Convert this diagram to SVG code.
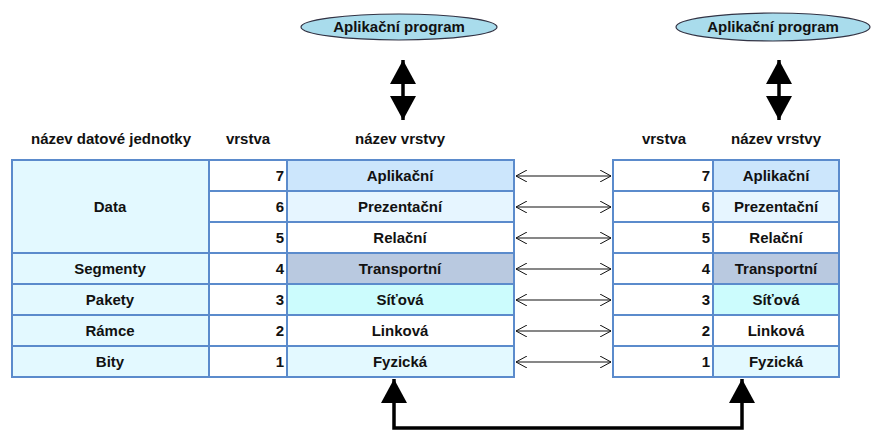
<svg xmlns="http://www.w3.org/2000/svg" width="873" height="430" viewBox="0 0 873 430">
  <style>
    text { font-family: "Liberation Sans", Arial, sans-serif; font-weight: bold; font-size: 15px; fill: #111; }
    .c { text-anchor: middle; }
    .r { text-anchor: end; }
    .cell { stroke: #5b8bcc; stroke-width: 2; }
    .unit { fill: #e3f9ff; }
    .num { fill: #ffffff; }
    .l7 { fill: #cce6fc; }
    .l6 { fill: #e6f5ff; }
    .l5 { fill: #ffffff; }
    .l4 { fill: #b9c9e0; }
    .l3 { fill: #ccfcfd; }
    .l2 { fill: #ffffff; }
    .l1 { fill: #e3f9ff; }
    .peer { stroke: #111; stroke-width: 1.2; fill: none; marker-start: url(#open); marker-end: url(#open); }
    .thick { stroke: #000; stroke-width: 3.5; fill: none; }
    .app { fill: #a9dcec; stroke: #334; stroke-width: 1.2; }
  </style>
  <defs>
    <marker id="open" viewBox="0 0 12 12" refX="11" refY="6" markerWidth="12" markerHeight="12" markerUnits="userSpaceOnUse" orient="auto-start-reverse">
      <path d="M0,0 L11,6 L0,12" fill="none" stroke="#111" stroke-width="1"/>
    </marker>
    <marker id="solid" viewBox="0 0 26 26" refX="24" refY="13" markerWidth="26" markerHeight="26" markerUnits="userSpaceOnUse" orient="auto-start-reverse">
      <path d="M0,0 L24,13 L0,26 Z" fill="#000"/>
    </marker>
  </defs>

  <!-- application programs -->
  <g id="app-left">
    <ellipse class="app" cx="399" cy="27" rx="98" ry="13"/>
    <text class="c" x="399" y="32">Aplikační program</text>
  </g>
  <g id="app-right">
    <ellipse class="app" cx="773" cy="27" rx="97" ry="14"/>
    <text class="c" x="773" y="32">Aplikační program</text>
  </g>

  <!-- column headers -->
  <g id="headers">
    <text class="c" x="111" y="144">název datové jednotky</text>
    <text class="c" x="248" y="144">vrstva</text>
    <text class="c" x="400" y="144">název vrstvy</text>
    <text class="c" x="664" y="144">vrstva</text>
    <text class="c" x="776" y="144">název vrstvy</text>
  </g>

  <!-- left stack: data units -->
  <g id="units">
    <rect class="cell unit" x="12" y="160" width="197" height="93"/>
    <text class="c" x="110" y="212">Data</text>
    <rect class="cell unit" x="12" y="253" width="197" height="31"/>
    <text class="c" x="110" y="274">Segmenty</text>
    <rect class="cell unit" x="12" y="284" width="197" height="31"/>
    <text class="c" x="110" y="305">Pakety</text>
    <rect class="cell unit" x="12" y="315" width="197" height="31"/>
    <text class="c" x="110" y="336">Rámce</text>
    <rect class="cell unit" x="12" y="346" width="197" height="31"/>
    <text class="c" x="110" y="367">Bity</text>
  </g>

  <!-- left stack: layers -->
  <g id="left-stack">
    <rect class="cell num" x="209" y="160" width="78" height="31"/><text class="r" x="284" y="181">7</text>
    <rect class="cell l7" x="287" y="160" width="227" height="31"/><text class="c" x="400" y="181">Aplikační</text>
    <rect class="cell num" x="209" y="191" width="78" height="31"/><text class="r" x="284" y="212">6</text>
    <rect class="cell l6" x="287" y="191" width="227" height="31"/><text class="c" x="400" y="212">Prezentační</text>
    <rect class="cell num" x="209" y="222" width="78" height="31"/><text class="r" x="284" y="243">5</text>
    <rect class="cell l5" x="287" y="222" width="227" height="31"/><text class="c" x="400" y="243">Relační</text>
    <rect class="cell num" x="209" y="253" width="78" height="31"/><text class="r" x="284" y="274">4</text>
    <rect class="cell l4" x="287" y="253" width="227" height="31"/><text class="c" x="400" y="274">Transportní</text>
    <rect class="cell num" x="209" y="284" width="78" height="31"/><text class="r" x="284" y="305">3</text>
    <rect class="cell l3" x="287" y="284" width="227" height="31"/><text class="c" x="400" y="305">Síťová</text>
    <rect class="cell num" x="209" y="315" width="78" height="31"/><text class="r" x="284" y="336">2</text>
    <rect class="cell l2" x="287" y="315" width="227" height="31"/><text class="c" x="400" y="336">Linková</text>
    <rect class="cell num" x="209" y="346" width="78" height="31"/><text class="r" x="284" y="367">1</text>
    <rect class="cell l1" x="287" y="346" width="227" height="31"/><text class="c" x="400" y="367">Fyzická</text>
  </g>

  <!-- right stack: layers -->
  <g id="right-stack">
    <rect class="cell num" x="613" y="160" width="100" height="31"/><text class="r" x="710" y="181">7</text>
    <rect class="cell l7" x="713" y="160" width="126" height="31"/><text class="c" x="776" y="181">Aplikační</text>
    <rect class="cell num" x="613" y="191" width="100" height="31"/><text class="r" x="710" y="212">6</text>
    <rect class="cell l6" x="713" y="191" width="126" height="31"/><text class="c" x="776" y="212">Prezentační</text>
    <rect class="cell num" x="613" y="222" width="100" height="31"/><text class="r" x="710" y="243">5</text>
    <rect class="cell l5" x="713" y="222" width="126" height="31"/><text class="c" x="776" y="243">Relační</text>
    <rect class="cell num" x="613" y="253" width="100" height="31"/><text class="r" x="710" y="274">4</text>
    <rect class="cell l4" x="713" y="253" width="126" height="31"/><text class="c" x="776" y="274">Transportní</text>
    <rect class="cell num" x="613" y="284" width="100" height="31"/><text class="r" x="710" y="305">3</text>
    <rect class="cell l3" x="713" y="284" width="126" height="31"/><text class="c" x="776" y="305">Síťová</text>
    <rect class="cell num" x="613" y="315" width="100" height="31"/><text class="r" x="710" y="336">2</text>
    <rect class="cell l2" x="713" y="315" width="126" height="31"/><text class="c" x="776" y="336">Linková</text>
    <rect class="cell num" x="613" y="346" width="100" height="31"/><text class="r" x="710" y="367">1</text>
    <rect class="cell l1" x="713" y="346" width="126" height="31"/><text class="c" x="776" y="367">Fyzická</text>
  </g>

  <!-- connectors -->
  <g id="connectors">
    <line class="peer" x1="516" y1="176" x2="611" y2="176"/>
    <line class="peer" x1="516" y1="207" x2="611" y2="207"/>
    <line class="peer" x1="516" y1="238" x2="611" y2="238"/>
    <line class="peer" x1="516" y1="269" x2="611" y2="269"/>
    <line class="peer" x1="516" y1="300" x2="611" y2="300"/>
    <line class="peer" x1="516" y1="331" x2="611" y2="331"/>
    <line class="peer" x1="516" y1="362" x2="611" y2="362"/>
    <line class="thick" x1="403" y1="60" x2="403" y2="120" marker-start="url(#solid)" marker-end="url(#solid)"/>
    <line class="thick" x1="779" y1="60" x2="779" y2="120" marker-start="url(#solid)" marker-end="url(#solid)"/>
    <polyline class="thick" points="394,379 394,428 742,428 742,379" marker-start="url(#solid)" marker-end="url(#solid)"/>
  </g>
</svg>
